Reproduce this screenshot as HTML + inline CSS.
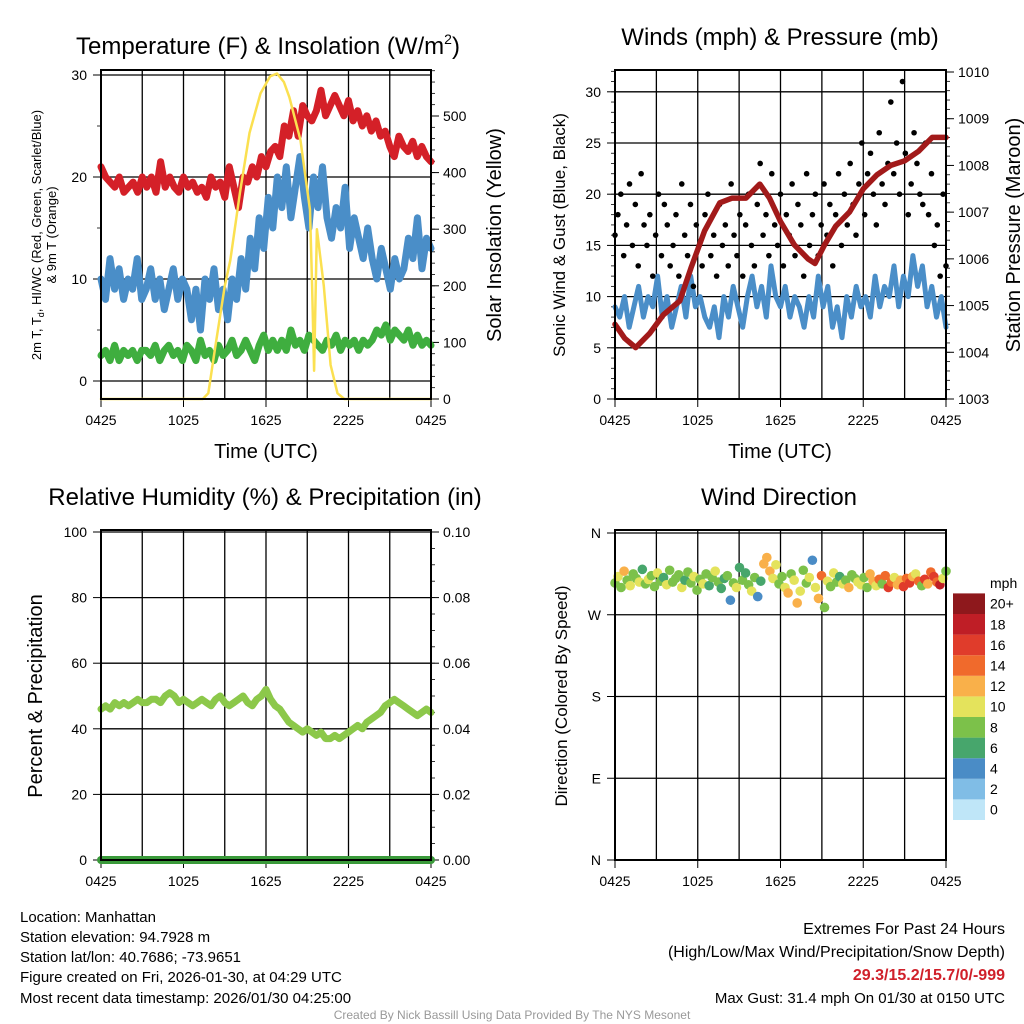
<!DOCTYPE html>
<html><head><meta charset="utf-8">
<style>
html,body{margin:0;padding:0;background:#fff;}
svg{display:block;font-family:"Liberation Sans",Arial,sans-serif;}
</style></head>
<body>
<svg id="fig" width="1024" height="1024" viewBox="0 0 1024 1024" xmlns="http://www.w3.org/2000/svg">
<g font-size="24" text-anchor="middle" fill="#000">
<text x="268" y="54">Temperature (F) &amp; Insolation (W/m<tspan font-size="14" dy="-10">2</tspan><tspan dy="10">)</tspan></text>
<text x="780" y="45">Winds (mph) &amp; Pressure (mb)</text>
<text x="265" y="505">Relative Humidity (%) &amp; Precipitation (in)</text>
<text x="779" y="505">Wind Direction</text>
</g>
<g fill="#000" text-anchor="middle">
<text x="266" y="458" font-size="20">Time (UTC)</text>
<text x="780" y="458" font-size="20">Time (UTC)</text>
<text transform="translate(41,235) rotate(-90)" font-size="13">2m T, T<tspan font-size="9" dy="3">d</tspan><tspan dy="-3">, HI/WC (Red, Green, Scarlet/Blue)</tspan></text>
<text transform="translate(56,235) rotate(-90)" font-size="13">&amp; 9m T (Orange)</text>
<text transform="translate(501,235) rotate(-90)" font-size="20">Solar Insolation (Yellow)</text>
<text transform="translate(565,235) rotate(-90)" font-size="17">Sonic Wind &amp; Gust (Blue, Black)</text>
<text transform="translate(1020,235) rotate(-90)" font-size="20">Station Pressure (Maroon)</text>
<text transform="translate(42,696) rotate(-90)" font-size="20">Percent &amp; Precipitation</text>
<text transform="translate(567,696) rotate(-90)" font-size="17">Direction (Colored By Speed)</text>
</g>
<g font-size="15" fill="#000">
<text x="20" y="922">Location: Manhattan</text>
<text x="20" y="942">Station elevation: 94.7928 m</text>
<text x="20" y="962">Station lat/lon: 40.7686; -73.9651</text>
<text x="20" y="982">Figure created on Fri, 2026-01-30, at 04:29 UTC</text>
<text x="20" y="1003">Most recent data timestamp: 2026/01/30 04:25:00</text>
</g>
<g font-size="16" fill="#000" text-anchor="end">
<text x="1005" y="934">Extremes For Past 24 Hours</text>
<text x="1005" y="957">(High/Low/Max Wind/Precipitation/Snow Depth)</text>
<text x="1005" y="980" fill="#d0202a" font-weight="bold">29.3/15.2/15.7/0/-999</text>
<text x="1005" y="1003" font-size="15">Max Gust: 31.4 mph On 01/30 at 0150 UTC</text>
</g>
<text x="512" y="1019" font-size="12" fill="#999" text-anchor="middle">Created By Nick Bassill Using Data Provided By The NYS Mesonet</text>
<g id="plots"></g>
</svg>
<script>
// ---------- DATA ----------
const timeLabels = ["0425","1025","1625","2225","0425"];
const tempRed = [21,20,19.5,19,20,18.5,19,19.5,18.5,20, 19,20,18.5,21.5,19,20,19,18.5,20,19, 19.5,18.5,19,18,20,19,19.5,18,21,19, 17,20,19.5,21,20,22,21,22.5,23,22, 25,24,26.5,24,27,26,25.5,26.5,28.5,26, 27,28,27,26,27.5,25.5,26.5,25,26,24.5, 25.5,24,24.5,23,22,24,23,22.5,23.5,22,23, 22,21.5];
const tempBlue = [10,8,12,9,11,8,10,9,12,8, 9,11,8,10,7,9,11,8,10,9, 6,9,5,10,8,11,7,9,6,10, 8,12,9,14,11,16,13,18,15,20, 17,21,16,19,22,18,15,20,17,21, 16,14,17,15,19,13,16,14,12,15, 12,10,13,11,9,12,10,11,14,12,16, 11,14,13];
const tempGreen = [2.5,3,2,3.5,2,3,2.5,3,2,3, 3,2.5,3.5,2,3,3.5,2.5,3,2,3.5, 3,2,4,2.5,3,2,3.5,2.5,3,4, 2.5,3,4,3,2,3.5,4.5,3,4,3, 4,3,5,3.5,4,3,4.5,4,3.5,3, 4,3.5,4.5,3,4,3.5,4,3,4,3.5, 4,5,4.5,5.5,4,5,4.5,4,5,3.5,4.5, 3.5,4,3.5];
const solarHours = [0,7.4,7.8,8.3,9.0,9.4,10.1,10.8,11.6,12.3,12.8,13.3,13.7,14.5,15.2,15.35,15.5,15.7,16.2,16.7,17.2,17.7,24];
const solarValues = [0,0,10,90,200,245,364,470,540,570,575,560,533,458,334,200,50,300,200,60,10,0,0];
const windSpeed = [9,8,10,7,9,11,8,10,9,12, 8,10,7,9,11,8,12,9,10,8, 7,9,6,10,8,11,9,7,10,12, 9,11,8,13,10,9,11,8,10,9, 7,10,8,12,9,11,7,9,6,10, 8,11,9,10,8,12,9,11,10,13, 9,12,10,14,11,13,9,11,8,10,7];
const gustValues = [16,18,20,14,17,21,15,19,13,22,17,15,18,12,16,20,14,19,17,13, 15,18,12,21,16,14,19,11,17,15,13,18,20,14,16,12,19,15,17,13, 21,16,14,18,12,17,20,15,13,19,23,16,18,14,22,17,15,20,13,18, 16,21,14,19,17,12,22,15,18,20,14,17,21,16,19,13,18,22,15,20, 17,23,19,16,21,25,18,22,24,20,17,26,21,19,23,29,22,25,20,31, 24,18,21,26,23,20,19,25,18,22,15,17,12,20,13];
const pressureHours = [0,0.7,1.5,2.5,3.5,4.7,5.5,6.5,7.6,8.5,9.5,10.5,11.2,12,13,14,14.5,15.2,16,17,18,19,20,21,22,23,24];
const pressureValues = [1004.6,1004.3,1004.1,1004.4,1004.8,1005.1,1005.8,1006.6,1007.2,1007.3,1007.3,1007.6,1007.3,1006.8,1006.3,1006.0,1005.9,1006.3,1006.7,1007.0,1007.5,1007.8,1008.0,1008.1,1008.3,1008.6,1008.6];
const rhValues = [46,47,46,48,47,48,47,48,49,48, 48,49,49,48,50,51,50,48,49,48, 47,48,49,48,47,49,50,48,47,48, 49,50,48,47,49,50,52,49,47,46, 44,42,41,40,39,40,39,38,39,37, 37,38,37,38,39,40,41,40,42,43, 44,45,47,48,49,48,47,46,45,44, 45,46,45];
const precipValues = [0,0,0,0,0,0,0,0,0,0,0,0,0];
const dirValues = [305,312,300,318,308,302,315,310,306,320,304,309,313,301,316,307,311,303,319,306, 310,314,300,308,317,305,312,297,309,304,315,302,311,318,306,299,310,313,286,305, 300,322,308,316,303,296,311,290,307,326,333,318,310,325,304,312,300,294,315,308, 283,296,319,305,311,330,300,288,313,278,307,301,316,306,312,304,308,300,314,310, 306,303,311,300,315,307,302,309,304,313,300,306,311,303,308,301,310,305,312,315, 307,302,309,304,317,312,306,303,310,318];
const dirSpeeds = [9,11,8,12,9,10,8,9,11,7,9,10,8,9,10,9,7,11,8,9, 8,9,10,7,9,8,11,9,8,10,9,7,8,10,9,6,7,8,5,9, 10,6,8,7,9,11,8,5,6,12,13,12,10,11,9,8,10,12,9,11, 12,10,8,9,10,4,11,13,14,8,10,9,11,8,7,10,9,12,8,9, 10,11,8,9,12,13,10,14,9,15,16,14,10,12,13,16,15,17,12,10, 14,9,16,13,15,17,14,18,10,9];
const speedBinLabels = ["0","2","4","6","8","10","12","14","16","18","20+"];
const speedBinColors = ["#bfe6f8","#80bde6","#4a8cc6","#47a66c","#7cc14a","#e4e35c","#f9b04a","#f06a2c","#e03c2b","#bf1e26","#8e181c"];

// ---------- HELPERS ----------
const NS="http://www.w3.org/2000/svg";
const root=document.getElementById('plots');
function mk(tag,attrs,parent){const e=document.createElementNS(NS,tag);for(const k in attrs)e.setAttribute(k,attrs[k]);(parent||root).appendChild(e);return e;}
function lin(d0,d1,r0,r1){return v=>r0+(v-d0)/(d1-d0)*(r1-r0);}
function panel(name){
  const g=mk('g',{});
  
  
  return g;
}
function frame(g,x0,x1,y0,y1){
  const r=mk('rect',{x:x0,y:y0,width:x1-x0,height:y1-y0,fill:'none',stroke:'#000','stroke-width':2},g);
  
  
}
function vgrid(g,x0,x1,y0,y1){
  const xs=lin(0,24,x0,x1);
  for(let h=3;h<24;h+=3){mk('line',{x1:xs(h),x2:xs(h),y1:y0,y2:y1,stroke:'#000','stroke-width':1.3},g);}
  timeLabels.forEach((t,i)=>{
    const tx=mk('text',{x:xs(i*6),y:y1+26,'font-size':14,'text-anchor':'middle'},g);
    tx.textContent=t;
    
    
    mk('line',{x1:xs(i*6),x2:xs(i*6),y1:y1,y2:y1+8,stroke:'#000','stroke-width':1},g);
  });
}
function leftAxis(g,x0,x1,ys,ticks,labels,minorStep,lo,hi,grid){
  ticks.forEach((v,i)=>{
    if(grid) mk('line',{x1:x0,x2:x1,y1:ys(v),y2:ys(v),stroke:'#000','stroke-width':1.3},g);
    mk('line',{x1:x0-8,x2:x0,y1:ys(v),y2:ys(v),stroke:'#000','stroke-width':1},g);
    const t=mk('text',{x:x0-14,y:ys(v)+5,'font-size':14,'text-anchor':'end'},g);
    t.textContent=labels[i];
    
    
  });
  if(minorStep) for(let v=lo;v<=hi;v+=minorStep) mk('line',{x1:x0-4,x2:x0,y1:ys(v),y2:ys(v),stroke:'#000','stroke-width':0.8},g);
}
function rightAxis(g,x1,ys,ticks,labels,minorStep,lo,hi){
  ticks.forEach((v,i)=>{
    mk('line',{x1:x1,x2:x1+8,y1:ys(v),y2:ys(v),stroke:'#000','stroke-width':1},g);
    const t=mk('text',{x:x1+12,y:ys(v)+5,'font-size':14},g);
    t.textContent=labels[i];
    
    
  });
  if(minorStep) for(let v=lo;v<=hi+1e-9;v+=minorStep) mk('line',{x1:x1,x2:x1+4,y1:ys(v),y2:ys(v),stroke:'#000','stroke-width':0.8},g);
}
function seriesPath(g,arr,xs,ys,color,w,name,hours){
  const n=arr.length;
  const d=arr.map((v,i)=>(i?'L':'M')+xs(hours?hours[i]:i/(n-1)*24).toFixed(1)+','+ys(v).toFixed(1)).join('');
  const p=mk('path',{d:d,fill:'none',stroke:color,'stroke-width':w,'stroke-linejoin':'round','stroke-linecap':'round'},g);
  
  
  return p;
}
function binColor(s){let i=Math.floor(s/2);if(i<0)i=0;if(i>10)i=10;return speedBinColors[i];}

// ---------- PANEL 1: Temperature ----------
{
 const x0=101,x1=431,y0=70,y1=399;
 const g=panel('temperature-panel');
 const xs=lin(0,24,x0,x1), ys=lin(0,10,381,279), yr=lin(0,100,399,342.4);
 vgrid(g,x0,x1,y0,y1);
 leftAxis(g,x0,x1,ys,[0,10,20,30],["0","10","20","30"],5,0,30,true);
 rightAxis(g,x1,yr,[0,100,200,300,400,500],["0","100","200","300","400","500"],20,0,580);
 seriesPath(g,tempGreen,xs,ys,'#3fae3f',7,'dewpoint-line');
 seriesPath(g,tempBlue,xs,ys,'#4a8ec8',7,'windchill-line');
 seriesPath(g,tempRed,xs,ys,'#d42028',7,'temperature-line');
 seriesPath(g,solarValues,xs,yr,'#fbe050',2.5,'solar-insolation-line',solarHours);
 frame(g,x0,x1,y0,y1);
}
// ---------- PANEL 2: Winds ----------
{
 const x0=615,x1=946,y0=70,y1=399;
 const g=panel('winds-panel');
 const xs=lin(0,24,x0,x1), ys=lin(0,5,399,347.8), yr=lin(1003,1010,399,72);
 vgrid(g,x0,x1,y0,y1);
 leftAxis(g,x0,x1,ys,[0,5,10,15,20,25,30],["0","5","10","15","20","25","30"],1,0,32,true);
 rightAxis(g,x1,yr,[1003,1004,1005,1006,1007,1008,1009,1010],["1003","1004","1005","1006","1007","1008","1009","1010"],0.2,1003,1010);
 seriesPath(g,windSpeed,xs,ys,'#4a8ec8',5,'sonic-wind-line');
 const n=gustValues.length;
 gustValues.forEach((v,i)=>{
   const c=mk('circle',{cx:xs(i/(n-1)*24),cy:ys(v),r:2.8,fill:'#000'},g);
   
   
 });
 seriesPath(g,pressureValues,xs,yr,'#a21a1a',5.5,'pressure-line',pressureHours);
 frame(g,x0,x1,y0,y1);
}
// ---------- PANEL 3: RH ----------
{
 const x0=101,x1=431,y0=530,y1=860;
 const g=panel('humidity-panel');
 const xs=lin(0,24,x0,x1), ys=lin(0,100,860,532), yr=lin(0,0.1,860,532);
 vgrid(g,x0,x1,y0,y1);
 leftAxis(g,x0,x1,ys,[0,20,40,60,80,100],["0","20","40","60","80","100"],0,0,0,true);
 rightAxis(g,x1,yr,[0,0.02,0.04,0.06,0.08,0.1],["0.00","0.02","0.04","0.06","0.08","0.10"],0.005,0,0.1);
 seriesPath(g,rhValues,xs,ys,'#8cc84a',7,'humidity-line');
 seriesPath(g,precipValues,xs,yr,'#3a9a3a',8,'precipitation-line');
 frame(g,x0,x1,y0,y1);
}
// ---------- PANEL 4: Direction ----------
{
 const x0=615,x1=946,y0=530,y1=860;
 const g=panel('wind-direction-panel');
 const xs=lin(0,24,x0,x1), ys=lin(0,360,860,533);
 vgrid(g,x0,x1,y0,y1);
 leftAxis(g,x0,x1,ys,[0,90,180,270,360],["N","E","S","W","N"],0,0,0,true);
 const n=dirValues.length;
 dirValues.forEach((v,i)=>{
   const c=mk('circle',{cx:xs(i/(n-1)*24),cy:ys(v),r:4.8,fill:binColor(dirSpeeds[i])},g);
   
   
 });
 frame(g,x0,x1,y0,y1);
 const lg=mk('g',{},root);
 
 
 const t=mk('text',{x:990,y:588,'font-size':14},lg); t.textContent='mph';
 const bh=20.6;
 speedBinLabels.forEach((lab,i)=>{
   const y=820-(i+1)*bh;
   const r=mk('rect',{x:953,y:y,width:32,height:bh,fill:speedBinColors[i]},lg);
   
   
   const tx=mk('text',{x:990,y:y+bh/2+5,'font-size':14},lg); tx.textContent=lab;
 });
}
</script>
</body></html>
